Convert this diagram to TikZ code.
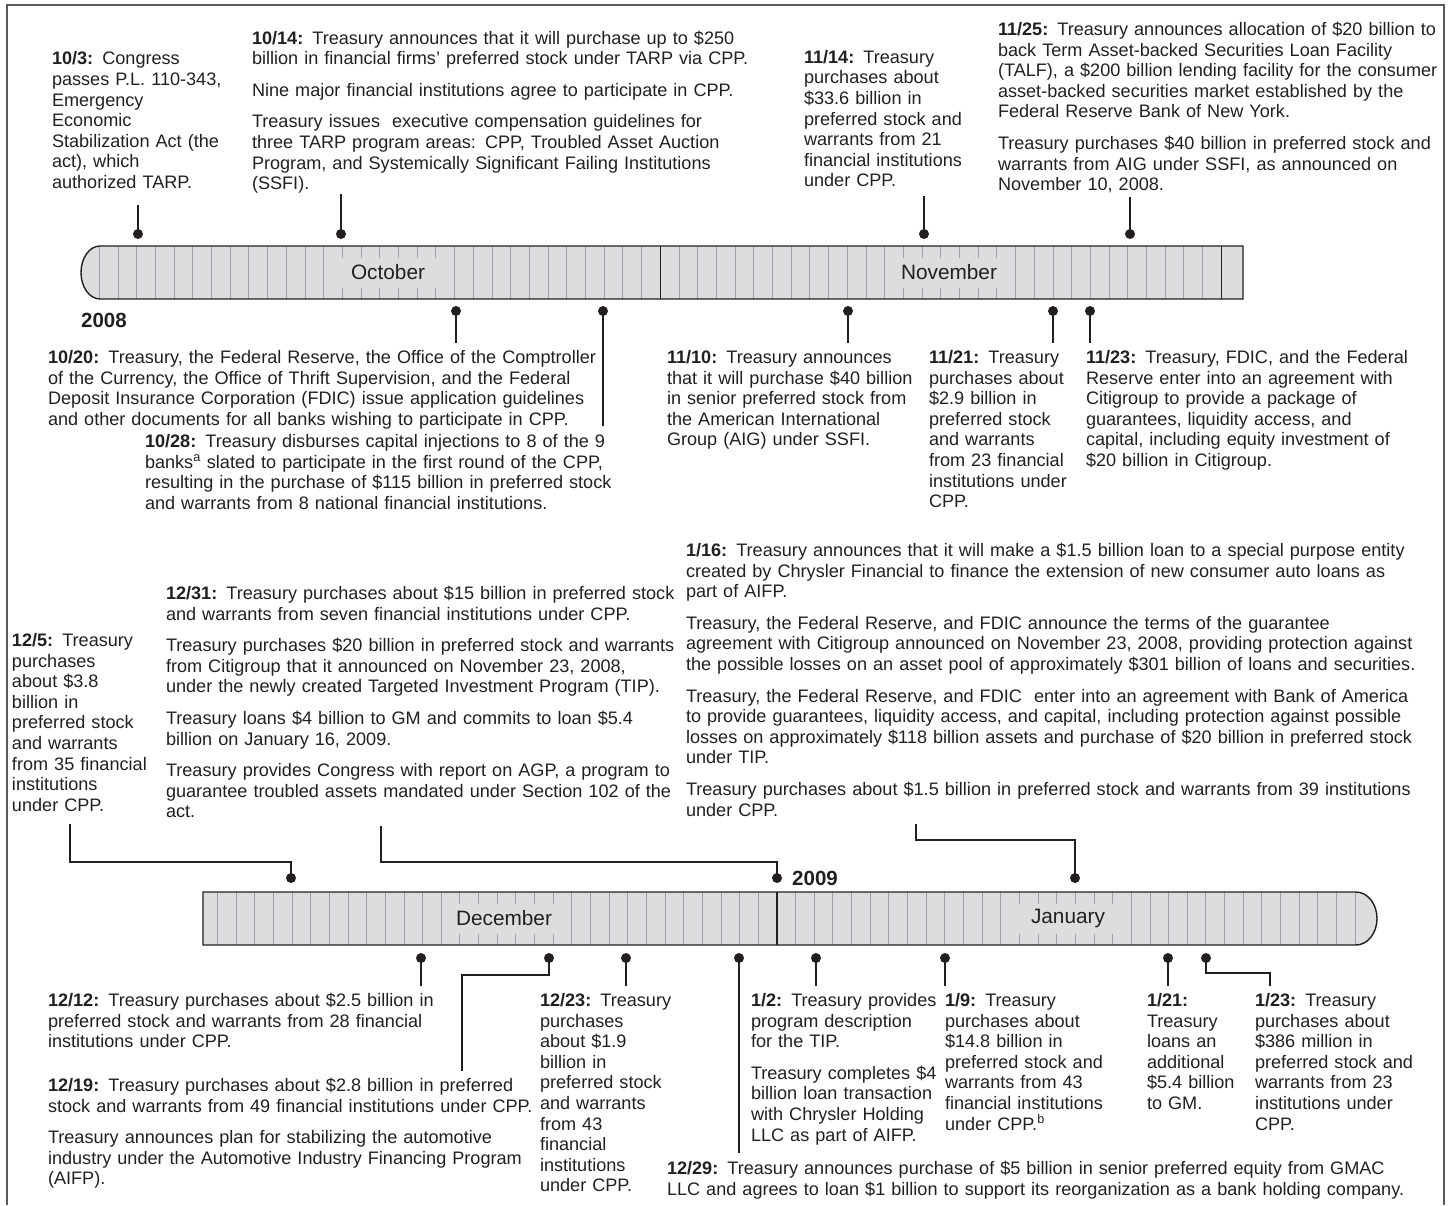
\documentclass[tikz,border=0pt]{standalone}
\usepackage{fontspec}
\setmainfont{Liberation Sans}
\definecolor{ink}{HTML}{231F20}
\definecolor{barfill}{HTML}{DCDDDE}
\definecolor{tickc}{HTML}{9FA1A4}
\definecolor{framec}{HTML}{58595B}
\newcommand\bodyfs{\fontsize{18.1}{20.6}\selectfont}
\newcommand\dt[1]{\textbf{#1}}
\tikzset{
  txt/.style={anchor=base west, inner sep=0pt, outer sep=0pt, text width=800pt, align=left, font=\bodyfs, text=ink},
  dot/.style={circle, fill=ink, inner sep=0pt, minimum size=10pt},
  conn/.style={draw=ink, line width=1.2pt},
  barline/.style={draw=ink, line width=1.4pt},
  tickline/.style={draw=tickc, line width=1pt},
  monthlbl/.style={fill=barfill, text=ink, inner sep=0pt, minimum height=30pt, font=\fontsize{20.8}{24}\selectfont},
  yearlbl/.style={text=ink, inner sep=0pt, font=\fontsize{20.5}{24}\selectfont\bfseries},
}
\begin{document}
\begin{tikzpicture}[x=1pt,y=-1pt]
\useasboundingbox (0,0) rectangle (1450,1205);
% frame
\draw[framec, line width=1.5pt] (7,1205) -- (7,5) -- (1444,5) -- (1444,1205);

% ---------------- bar 1 (Oct-Nov 2008) ----------------
\fill[barfill] (100,246) -- (1243,246) -- (1243,299) -- (100,299) arc[start angle=90, end angle=270, x radius=19, y radius=26.5] -- cycle;
\foreach \d in {1,...,30} { \draw[tickline] ({80.6+18.7*\d},246) -- ({80.6+18.7*\d},299); }
\foreach \d in {1,...,29} { \draw[tickline] ({660.3+18.7*\d},246) -- ({660.3+18.7*\d},299); }
\node[monthlbl, minimum width=100pt] (oct) at (388,272.5) {October};
\node[monthlbl, minimum width=104pt] (nov) at (949,272.5) {November};
\draw[barline] (660.3,246) -- (660.3,299);
\draw[barline] (1221.3,246) -- (1221.3,299);
\draw[barline] (100,246) -- (1243,246) -- (1243,299) -- (100,299) arc[start angle=90, end angle=270, x radius=19, y radius=26.5];
\node[yearlbl, anchor=west] (y2008) at (81,320) {2008};

% ---------------- bar 2 (Dec 2008-Jan 2009) ----------------
\fill[barfill] (203,892) -- (1356,892) arc[start angle=-90, end angle=90, x radius=21, y radius=26.5] -- (203,945) -- cycle;
\foreach \d in {1,...,30} { \draw[tickline] ({198.85+18.65*\d},892) -- ({198.85+18.65*\d},945); }
\foreach \d in {1,...,31} { \draw[tickline] ({777+18.65*\d},892) -- ({777+18.65*\d},945); }
\node[monthlbl, minimum width=104pt] (dec) at (504,918.5) {December};
\node[monthlbl, minimum width=100pt] (jan) at (1068,918.5) {January};
\draw[barline] (777,892) -- (777,945);
\draw[barline] (203,892) -- (1356,892) arc[start angle=-90, end angle=90, x radius=21, y radius=26.5] -- (203,945) -- cycle;
\node[yearlbl, anchor=west] (y2009) at (792,878) {2009};

% ---------------- texts, upper part ----------------
\node[txt] (t103) at (52,64.8) {\dt{10/3:} Congress\\passes P.L. 110-343,\\Emergency\\Economic\\Stabilization Act (the\\act), which\\authorized TARP.};
\node[txt] (t1014) at (252,44) {\dt{10/14:} Treasury announces that it will purchase up to \$250\\billion in financial firms' preferred stock under TARP via CPP.\\[11pt]Nine major financial institutions agree to participate in CPP.\\[11pt]Treasury issues\ \ executive compensation guidelines for\\three TARP program areas: CPP, Troubled Asset Auction\\Program, and Systemically Significant Failing Institutions\\(SSFI).};
\node[txt] (t1114) at (804,63.2) {\dt{11/14:} Treasury\\purchases about\\\$33.6 billion in\\preferred stock and\\warrants from 21\\financial institutions\\under CPP.};
\node[txt] (t1125) at (998,35.5) {\dt{11/25:} Treasury announces allocation of \$20 billion to\\back Term Asset-backed Securities Loan Facility\\(TALF), a \$200 billion lending facility for the consumer\\asset-backed securities market established by the\\Federal Reserve Bank of New York.\\[11pt]Treasury purchases \$40 billion in preferred stock and\\warrants from AIG under SSFI, as announced on\\November 10, 2008.};
\node[txt] (t1020) at (48,363.5) {\dt{10/20:} Treasury, the Federal Reserve, the Office of the Comptroller\\of the Currency, the Office of Thrift Supervision, and the Federal\\Deposit Insurance Corporation (FDIC) issue application guidelines\\and other documents for all banks wishing to participate in CPP.};
\node[txt] (t1028) at (145,447.5) {\dt{10/28:} Treasury disburses capital injections to 8 of the 9\\banks\textsuperscript{a} slated to participate in the first round of the CPP,\\resulting in the purchase of \$115 billion in preferred stock\\and warrants from 8 national financial institutions.};
\node[txt] (t1110) at (667,363.5) {\dt{11/10:} Treasury announces\\that it will purchase \$40 billion\\in senior preferred stock from\\the American International\\Group (AIG) under SSFI.};
\node[txt] (t1121) at (929,363.5) {\dt{11/21:} Treasury\\purchases about\\\$2.9 billion in\\preferred stock\\and warrants\\from 23 financial\\institutions under\\CPP.};
\node[txt] (t1123) at (1086,363.5) {\dt{11/23:} Treasury, FDIC, and the Federal\\Reserve enter into an agreement with\\Citigroup to provide a package of\\guarantees, liquidity access, and\\capital, including equity investment of\\\$20 billion in Citigroup.};

% ---------------- texts, lower part ----------------
\node[txt] (t125) at (12,646.5) {\dt{12/5:} Treasury\\purchases\\about \$3.8\\billion in\\preferred stock\\and warrants\\from 35 financial\\institutions\\under CPP.};
\node[txt] (t1231) at (166,599.5) {\dt{12/31:} Treasury purchases about \$15 billion in preferred stock\\and warrants from seven financial institutions under CPP.\\[11pt]Treasury purchases \$20 billion in preferred stock and warrants\\from Citigroup that it announced on November 23, 2008,\\under the newly created Targeted Investment Program (TIP).\\[11pt]Treasury loans \$4 billion to GM and commits to loan \$5.4\\billion on January 16, 2009.\\[11pt]Treasury provides Congress with report on AGP, a program to\\guarantee troubled assets mandated under Section 102 of the\\act.};
\node[txt] (t116) at (686,556.5) {\dt{1/16:} Treasury announces that it will make a \$1.5 billion loan to a special purpose entity\\created by Chrysler Financial to finance the extension of new consumer auto loans as\\part of AIFP.\\[11pt]Treasury, the Federal Reserve, and FDIC announce the terms of the guarantee\\agreement with Citigroup announced on November 23, 2008, providing protection against\\the possible losses on an asset pool of approximately \$301 billion of loans and securities.\\[11pt]Treasury, the Federal Reserve, and FDIC\ \ enter into an agreement with Bank of America\\to provide guarantees, liquidity access, and capital, including protection against possible\\losses on approximately \$118 billion assets and purchase of \$20 billion in preferred stock\\under TIP.\\[11pt]Treasury purchases about \$1.5 billion in preferred stock and warrants from 39 institutions\\under CPP.};
\node[txt] (t1212) at (48,1006.5) {\dt{12/12:} Treasury purchases about \$2.5 billion in\\preferred stock and warrants from 28 financial\\institutions under CPP.};
\node[txt] (t1219) at (48,1091.5) {\dt{12/19:} Treasury purchases about \$2.8 billion in preferred\\stock and warrants from 49 financial institutions under CPP.\\[11pt]Treasury announces plan for stabilizing the automotive\\industry under the Automotive Industry Financing Program\\(AIFP).};
\node[txt] (t1223) at (540,1006.5) {\dt{12/23:} Treasury\\purchases\\about \$1.9\\billion in\\preferred stock\\and warrants\\from 43\\financial\\institutions\\under CPP.};
\node[txt] (t12) at (751,1006.5) {\dt{1/2:} Treasury provides\\program description\\for the TIP.\\[11pt]Treasury completes \$4\\billion loan transaction\\with Chrysler Holding\\LLC as part of AIFP.};
\node[txt] (t19) at (945,1006.5) {\dt{1/9:} Treasury\\purchases about\\\$14.8 billion in\\preferred stock and\\warrants from 43\\financial institutions\\under CPP.\textsuperscript{b}};
\node[txt] (t121) at (1147,1006.5) {\dt{1/21:}\\Treasury\\loans an\\additional\\\$5.4 billion\\to GM.};
\node[txt] (t123) at (1255,1006.5) {\dt{1/23:} Treasury\\purchases about\\\$386 million in\\preferred stock and\\warrants from 23\\institutions under\\CPP.};
\node[txt] (t1229) at (667,1174.5) {\dt{12/29:} Treasury announces purchase of \$5 billion in senior preferred equity from GMAC\\LLC and agrees to loan \$1 billion to support its reorganization as a bank holding company.};

% ---------------- dots ----------------
\node[dot] (d103)  at (138,234) {};
\node[dot] (d1014) at (341,234) {};
\node[dot] (d1114) at (924,234) {};
\node[dot] (d1125) at (1130,234) {};
\node[dot] (d1020) at (456,311) {};
\node[dot] (d1028) at (603,311) {};
\node[dot] (d1110) at (848,311) {};
\node[dot] (d1121) at (1053,311) {};
\node[dot] (d1123) at (1090,311) {};

\node[dot] (d125)  at (291,878) {};
\node[dot] (d1231) at (777,878) {};
\node[dot] (d116)  at (1075,878) {};
\node[dot] (d1212) at (421,958) {};
\node[dot] (d1219) at (549,958) {};
\node[dot] (d1223) at (626,958) {};
\node[dot] (d1229) at (739,958) {};
\node[dot] (d12)   at (816,958) {};
\node[dot] (d19)   at (945,958) {};
\node[dot] (d121)  at (1168,958) {};
\node[dot] (d123)  at (1206,958) {};

% ---------------- connector ends ----------------
\coordinate (s103)  at (138,205);
\coordinate (s1014) at (341,194);
\coordinate (s1114) at (924,196);
\coordinate (s1125) at (1130,197);
\coordinate (s1020) at (456,343);
\coordinate (s1028) at (603,426);
\coordinate (s1110) at (848,343);
\coordinate (s1121) at (1053,343);
\coordinate (s1123) at (1090,343);

\coordinate (s125)  at (70,824);
\coordinate (k125)  at (70,862);
\coordinate (s1231) at (381,826);
\coordinate (k1231) at (381,862);
\coordinate (s116)  at (916,824);
\coordinate (k116)  at (916,840);

\coordinate (s1212) at (421,986);
\coordinate (k1219) at (462,975);
\coordinate (s1219) at (462,1071);
\coordinate (s1223) at (626,986);
\coordinate (s1229) at (739,1153);
\coordinate (s12)   at (816,986);
\coordinate (s19)   at (945,986);
\coordinate (s121)  at (1168,986);
\coordinate (k123)  at (1270,973);
\coordinate (s123)  at (1270,986);

% ---------------- connectors ----------------
\foreach \n in {103,1014,1114,1125,1020,1028,1110,1121,1123,1212,1223,1229,12,19,121} {
  \draw[conn] (d\n.center) -- (s\n);
}
\draw[conn] (s125) -- (k125) -| (d125.center);
\draw[conn] (s1231) -- (k1231) -| (d1231.center);
\draw[conn] (s116) -- (k116) -| (d116.center);
\draw[conn] (d1219.center) |- (k1219) -- (s1219);
\draw[conn] (d123.center) |- (k123) -- (s123);
\end{tikzpicture}
\end{document}
